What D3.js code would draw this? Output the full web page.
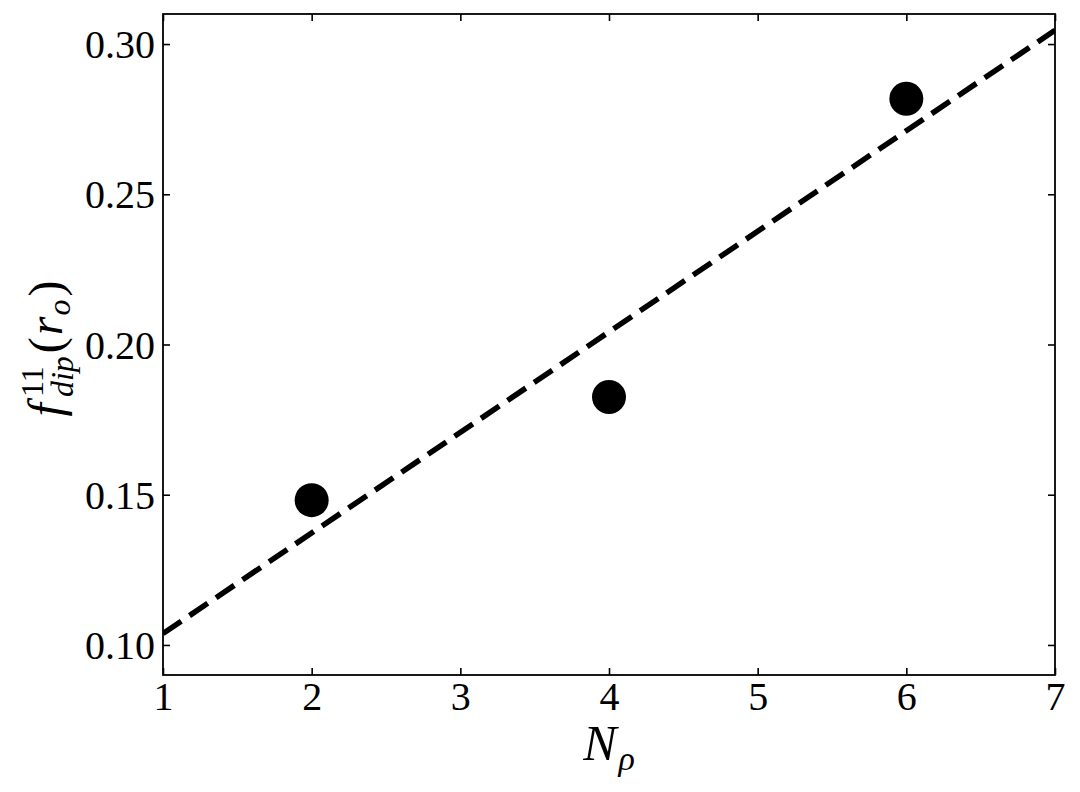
<!DOCTYPE html>
<html>
<head>
<meta charset="utf-8">
<script src="https://cdn.jsdelivr.net/npm/d3@7"></script>
<style>
  html, body { margin: 0; padding: 0; background: #fff; }
  svg { display: block; }
</style>
</head>
<body>
<svg id="chart" width="1080" height="792"></svg>
<script>
// ---- data ----
const pointX = [2, 4, 6];
const pointY = [0.1482, 0.1825, 0.2818];
const fitX = [1, 7];
const fitY = [0.1038, 0.3046];
const xTicks = [1, 2, 3, 4, 5, 6, 7];
const yTicks = [0.10, 0.15, 0.20, 0.25, 0.30];
const xDomain = [1, 7];
const yDomain = [0.09, 0.31];

// ---- layout ----
const FONT = '"Liberation Serif"';
const m = { left: 163, right: 1055, top: 14, bottom: 675 };
const svg = d3.select("#chart");

const x = d3.scaleLinear().domain(xDomain).range([m.left, m.right]);
const y = d3.scaleLinear().domain(yDomain).range([m.bottom, m.top]);

const tickLen = 7;
const tickFont = 40;

svg.append("clipPath").attr("id", "clip")
  .append("rect").attr("x", m.left).attr("y", m.top)
  .attr("width", m.right - m.left).attr("height", m.bottom - m.top);

const fitData = fitX.map((d, i) => [d, fitY[i]]);
svg.append("path")
  .attr("clip-path", "url(#clip)")
  .attr("d", d3.line().x(d => x(d[0])).y(d => y(d[1]))(fitData))
  .attr("fill", "none")
  .attr("stroke", "#000")
  .attr("stroke-width", 5.5)
  .attr("stroke-dasharray", "22,10");

svg.selectAll("circle.pt")
  .data(pointX.map((d, i) => [d, pointY[i]]))
  .enter().append("circle")
  .attr("class", "pt")
  .attr("cx", d => x(d[0]))
  .attr("cy", d => y(d[1]))
  .attr("r", 17)
  .attr("fill", "#000");

const axStyle = g => {
  g.select(".domain").remove();
  g.selectAll(".tick line").attr("stroke", "#000").attr("stroke-width", 1.6);
};

const gB = svg.append("g").attr("transform", `translate(0,${m.bottom})`)
  .call(d3.axisBottom(x).tickValues(xTicks).tickSize(-tickLen).tickPadding(0).tickFormat(d3.format("d")));
axStyle(gB);
gB.selectAll(".tick text")
  .attr("y", 35).attr("dy", null)
  .style("font-size", tickFont + "px")
  .style("font-family", FONT).attr("fill", "#000");

const gT = svg.append("g").attr("transform", `translate(0,${m.top})`)
  .call(d3.axisTop(x).tickValues(xTicks).tickSize(-tickLen).tickFormat(""));
axStyle(gT);

const gL = svg.append("g").attr("transform", `translate(${m.left},0)`)
  .call(d3.axisLeft(y).tickValues(yTicks).tickSize(-tickLen).tickPadding(0).tickFormat(d3.format(".2f")));
axStyle(gL);
gL.selectAll(".tick text")
  .attr("x", -8).attr("dy", "0.34em")
  .style("font-size", tickFont + "px")
  .style("font-family", FONT).attr("fill", "#000");

const gR = svg.append("g").attr("transform", `translate(${m.right},0)`)
  .call(d3.axisRight(y).tickValues(yTicks).tickSize(-tickLen).tickFormat(""));
axStyle(gR);

svg.append("rect")
  .attr("x", m.left).attr("y", m.top)
  .attr("width", m.right - m.left).attr("height", m.bottom - m.top)
  .attr("fill", "none").attr("stroke", "#000").attr("stroke-width", 1.8);

// x label N_rho
const xl = svg.append("text")
  .attr("x", 609)
  .attr("y", 760)
  .attr("text-anchor", "middle")
  .style("font-family", FONT)
  .style("font-size", "50px");
xl.append("tspan").style("font-style", "italic").text("N");
xl.append("tspan").style("font-style", "italic").attr("dx", 2).attr("dy", 10).style("font-size", "34px").text("ρ");

// y label f^{11}_{dip}(r_o)
const yl = svg.append("g").attr("transform", `translate(62,${(m.top + m.bottom) / 2 + 4}) rotate(-90)`);
const inner = yl.append("g");
let cx = 0;
function piece(txt, size, italic, dy) {
  return inner.append("text").attr("x", cx).attr("y", dy)
    .style("font-family", FONT)
    .style("font-size", size + "px")
    .style("font-style", italic ? "italic" : "normal")
    .text(txt);
}
let t = piece("f", 48, true, 0); cx += t.node().getComputedTextLength() + 6;
const sx = cx;
const sup = piece("11", 32, false, -19);
const w1 = sup.node().getComputedTextLength();
cx = sx;
const sub = piece("dip", 32, true, 11);
const w2 = sub.node().getComputedTextLength();
cx = sx + Math.max(w1, w2) + 3;
t = piece("(", 48, false, 0); cx += t.node().getComputedTextLength() + 2;
t = piece("r", 48, true, 0); cx += t.node().getComputedTextLength() + 1;
t = piece("o", 32, true, 8); cx += t.node().getComputedTextLength() + 3;
t = piece(")", 48, false, 0); cx += t.node().getComputedTextLength();
inner.attr("transform", `translate(${-cx / 2},0)`);
</script>
</body>
</html>
